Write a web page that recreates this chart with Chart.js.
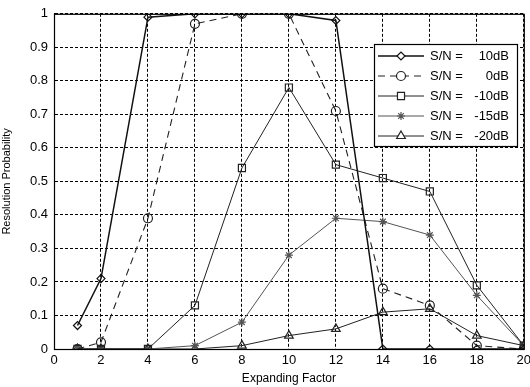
<!DOCTYPE html>
<html>
<head>
<meta charset="utf-8">
<script src="https://cdn.jsdelivr.net/npm/chart.js@4"></script>
<style>
  html, body { margin: 0; padding: 0; background: #fff; }
  #wrap { width: 530px; height: 387px; }
</style>
</head>
<body>
<div id="wrap"><canvas id="myChart" width="530" height="387"></canvas></div>
<script>
    // expanding factor values (x)
    var factors = [1, 2, 4, 6, 8, 10, 12, 14, 16, 18, 20];

    // resolution probability per S/N level
    var snr10  = [0.07, 0.21, 0.99, 1.00, 1.00, 1.00, 0.98, 0.00, 0.00, 0.00, 0.00];
    var snr0   = [0.00, 0.02, 0.39, 0.97, 1.00, 1.00, 0.71, 0.18, 0.13, 0.01, 0.00];
    var snrM10 = [0.00, 0.00, 0.00, 0.13, 0.54, 0.78, 0.55, 0.51, 0.47, 0.19, 0.01];
    var snrM15 = [0.00, 0.00, 0.00, 0.01, 0.08, 0.28, 0.39, 0.38, 0.34, 0.16, 0.01];
    var snrM20 = [0.00, 0.00, 0.00, 0.00, 0.01, 0.04, 0.06, 0.11, 0.12, 0.04, 0.01];

    var seriesLabels = ['10dB', '0dB', '-10dB', '-15dB', '-20dB'];

    var xTicks = [0, 2, 4, 6, 8, 10, 12, 14, 16, 18, 20];

    var FONT = '"Liberation Sans", Arial, sans-serif';

    function pts(vals) {
        return vals.map(function (v, i) { return { x: factors[i], y: v }; });
    }

    function series(label, vals, style, dash, color, width, radius) {
        return {
            label: label,
            data: pts(vals),
            showLine: true,
            borderColor: color,
            backgroundColor: '#fff',
            borderWidth: width,
            borderDash: dash,
            pointStyle: style,
            pointRadius: radius,
            pointBorderColor: color,
            pointBackgroundColor: 'rgba(255,255,255,0)',
            pointBorderWidth: 1.2,
            tension: 0
        };
    }

    var sets = [
        series(seriesLabels[0], snr10,  'rectRot',  [],     '#111', 1.5, 4),
        series(seriesLabels[1], snr0,   'circle',   [7, 5], '#222', 1.1, 4.5),
        series(seriesLabels[2], snrM10, 'rect',     [],     '#222', 1,   5),
        series(seriesLabels[3], snrM15, 'star',     [],     '#555', 1,   4),
        series(seriesLabels[4], snrM20, 'triangle', [],     '#222', 1,   5)
    ];

    // frame + legend drawn like the matlab box
    var boxPlugin = {
        id: 'boxLegend',
        afterDatasetsDraw: function (chart) {
            var c = chart.ctx, a = chart.chartArea;
            c.save();
            c.strokeStyle = '#000';
            c.lineWidth = 1.2;
            c.setLineDash([]);
            c.strokeRect(a.left + 0.5, a.top + 0.5, a.right - a.left, a.bottom - a.top);

            var bx = 374, by = 44, bw = 143, bh = 102;
            c.fillStyle = '#fff';
            c.fillRect(bx, by, bw, bh);
            c.strokeRect(bx + 0.5, by + 0.5, bw, bh);

            c.font = '13px ' + FONT;
            c.textBaseline = 'middle';
            chart.data.datasets.forEach(function (ds, i) {
                var y = by + 12 + i * 20;
                c.strokeStyle = ds.borderColor;
                c.lineWidth = ds.borderWidth;
                c.setLineDash(ds.borderDash);
                c.beginPath();
                c.moveTo(378, y);
                c.lineTo(424, y);
                c.stroke();
                c.setLineDash([]);
                c.lineWidth = 1.2;
                c.fillStyle = '#fff';
                Chart.helpers.drawPoint(c, {
                    pointStyle: ds.pointStyle, radius: ds.pointRadius,
                    borderWidth: 1.2, rotation: 0
                }, 401, y);
                c.fillStyle = '#000';
                c.textAlign = 'left';
                c.fillText('S/N =', 430, y);
                c.textAlign = 'right';
                c.fillText(ds.label, 509, y);
            });
            c.restore();
        }
    };

    var ctx = document.getElementById('myChart').getContext('2d');
    var chart = new Chart(ctx, {
        type: 'scatter',
        data: { datasets: sets },
        options: {
            responsive: false,
            animation: false,
            layout: { padding: { left: 0, right: 5, top: 4, bottom: 0 } },
            plugins: {
                legend: { display: false },
                tooltip: { enabled: false }
            },
            scales: {
                x: {
                    type: 'linear',
                    min: 0,
                    max: 20,
                    afterBuildTicks: function (axis) {
                        axis.ticks = xTicks.map(function (v) { return { value: v }; });
                    },
                    afterFit: function (axis) {
                        axis.height = 38;
                        axis.paddingRight = 0;
                    },
                    grid: { color: '#000', lineWidth: 1, drawTicks: false },
                    border: { display: true, color: '#000', dash: [3, 2] },
                    ticks: {
                        color: '#000',
                        padding: 4,
                        maxRotation: 0,
                        font: { family: FONT, size: 13 }
                    },
                    title: {
                        display: true,
                        text: 'Expanding Factor',
                        color: '#000',
                        padding: { top: 0, bottom: 1 },
                        font: { family: FONT, size: 12 }
                    }
                },
                y: {
                    min: 0,
                    max: 1,
                    afterFit: function (axis) { axis.width = 54; },
                    grid: { color: '#000', lineWidth: 1, drawTicks: false },
                    border: { display: true, color: '#000', dash: [3, 2] },
                    ticks: {
                        stepSize: 0.1,
                        color: '#000',
                        padding: 6,
                        callback: function (v) { return Math.round(v * 10) / 10; },
                        font: { family: FONT, size: 13 }
                    },
                    title: {
                        display: true,
                        text: 'Resolution Probability',
                        color: '#000',
                        padding: { top: 0, bottom: 1 },
                        font: { family: FONT, size: 11 }
                    }
                }
            }
        },
        plugins: [boxPlugin]
    });
</script>
</body>
</html>
